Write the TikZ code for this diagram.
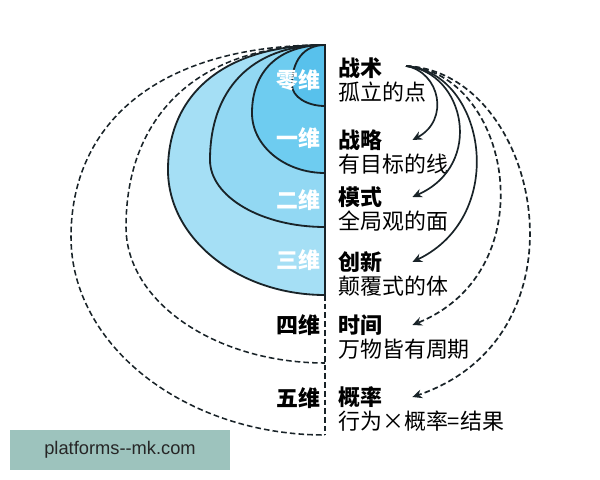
\documentclass[tikz,border=0pt]{standalone}
\usepackage{fontspec}
\setmainfont{Noto Sans CJK SC}
\newfontfamily\markfont{Liberation Sans}
\usetikzlibrary{arrows.meta, positioning}
\definecolor{dimzero}{RGB}{88,193,236}
\definecolor{dimone}{RGB}{110,204,240}
\definecolor{dimtwo}{RGB}{146,216,243}
\definecolor{dimthree}{RGB}{165,223,245}
\definecolor{markbg}{RGB}{157,195,189}
\definecolor{inkline}{RGB}{25,35,40}
\tikzstyle{shell} = [draw=inkline, line width=1.3pt]
\tikzstyle{ghostshell} = [draw=inkline, line width=1.1pt,
dash pattern=on 4pt off 2.2pt]
\tikzstyle{dimlabel} = [anchor=east, inner sep=0pt,
font=\bfseries\fontsize{15.6}{18}\selectfont]
\tikzstyle{headline} = [anchor=west, inner sep=0pt,
font=\bfseries\fontsize{15.6}{18}\selectfont]
\tikzstyle{subline} = [anchor=north west, inner sep=0pt,
font=\fontsize{15.6}{18}\selectfont]
\tikzstyle{arrow} = [-{Stealth[length=2.4mm, width=2.2mm]}, line width=1.2pt, draw=inkline]
\tikzstyle{dasharrow} = [arrow, dash pattern=on 4pt off 2.2pt]

\begin{document}
\begin{tikzpicture}[x=0.025cm, y=-0.025cm]
    \useasboundingbox (0,0) rectangle (600,480);

    % outer dashed shells
    \foreach \xl/\yl/\yb in {71/237/435, 126/227/363}
        \draw[ghostshell] (325,45) .. controls ({325-0.65*(325-\xl)},45) and (\xl,{\yl-0.6*(\yl-45)}) .. (\xl,\yl)
        .. controls (\xl,{\yl+0.55*(\yb-\yl)}) and ({325-0.55*(325-\xl)},\yb) .. (325,\yb);
    \draw[ghostshell] (325,295) -- (325,435);

    % filled shells, outside in
    \foreach \xl/\yl/\yb/\col in {168/170/295/dimthree, 210/160/227/dimtwo,
        252/113/173/dimone, 292/85/106/dimzero}
        \filldraw[shell, fill=\col] (325,45) .. controls ({325-0.65*(325-\xl)},45) and (\xl,{\yl-0.6*(\yl-45)}) .. (\xl,\yl)
        .. controls (\xl,{\yl+0.55*(\yb-\yl)}) and ({325-0.55*(325-\xl)},\yb) .. (325,\yb) -- cycle;

    \node (dim0) [dimlabel, text=white] at (321,80) {零维};
    \node (dim1) [dimlabel, text=white] at (321,138) {一维};
    \node (dim2) [dimlabel, text=white] at (321,200) {二维};
    \node (dim3) [dimlabel, text=white] at (321,260) {三维};
    \node (dim4) [dimlabel] at (321,325) {四维};
    \node (dim5) [dimlabel] at (321,398) {五维};

    \node (tac) [headline] at (338,68) {战术};
    \node (tacd) [below=2pt of tac.south west, subline] {孤立的点};
    \node (str) [headline] at (338,140) {战略};
    \node (strd) [below=2pt of str.south west, subline] {有目标的线};
    \node (pat) [headline] at (338,197) {模式};
    \node (patd) [below=2pt of pat.south west, subline] {全局观的面};
    \node (inn) [headline] at (338,262) {创新};
    \node (innd) [below=2pt of inn.south west, subline] {颠覆式的体};
    \node (tim) [headline] at (338,325) {时间};
    \node (timd) [below=2pt of tim.south west, subline] {万物皆有周期};
    \node (pro) [headline] at (338,397) {概率};
    \node (prod) [below=2pt of pro.south west, subline] {行为×概率=结果};

    \coordinate (src) at (406,66);
    \draw[arrow] (src) .. controls (440,72) and (450,120) .. ([xshift=7.5mm]str.east);
    \draw[arrow] (src) .. controls (465,72) and (485,165) .. ([xshift=7.5mm]pat.east);
    \draw[arrow] (src) .. controls (485,72) and (510,215) .. ([xshift=7.5mm]inn.east);
    \draw[dasharrow] (src) .. controls (510,72) and (548,270) .. ([xshift=7.5mm]tim.east);
    \draw[dasharrow] (src) .. controls (540,72) and (595,335) .. ([xshift=7.5mm]pro.east);

    \node (mark) [fill=markbg, minimum width=5.5cm, minimum height=1cm,
        font=\markfont\fontsize{13}{15}\selectfont, text=black!85] at (120,450)
        {platforms-\kern0pt-mk.com};
\end{tikzpicture}
\end{document}
